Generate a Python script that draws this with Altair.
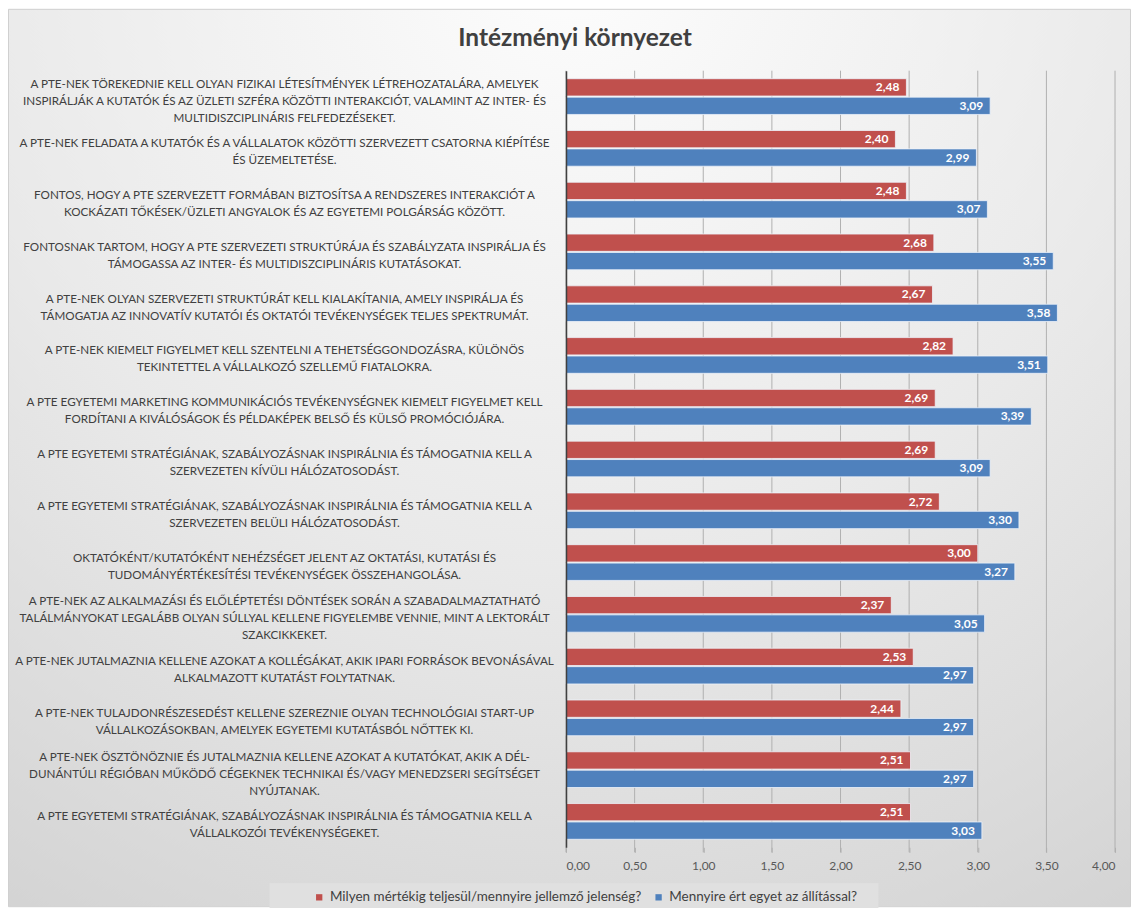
import altair as alt
import pandas as pd

title_text = "Intézményi környezet"
series_names = [
    "Milyen mértékig teljesül/mennyire jellemző jelenség?",
    "Mennyire ért egyet az állítással?",
]
series_colors = ["#c0504d", "#4f81bd"]

statements = [
    "A PTE-NEK TÖREKEDNIE KELL OLYAN FIZIKAI LÉTESÍTMÉNYEK LÉTREHOZATALÁRA, AMELYEK\nINSPIRÁLJÁK A KUTATÓK ÉS AZ ÜZLETI SZFÉRA KÖZÖTTI INTERAKCIÓT, VALAMINT AZ INTER- ÉS\nMULTIDISZCIPLINÁRIS FELFEDEZÉSEKET.",
    "A PTE-NEK FELADATA A KUTATÓK ÉS A VÁLLALATOK KÖZÖTTI SZERVEZETT CSATORNA KIÉPÍTÉSE\nÉS ÜZEMELTETÉSE.",
    "FONTOS, HOGY A PTE SZERVEZETT FORMÁBAN BIZTOSÍTSA A RENDSZERES INTERAKCIÓT A\nKOCKÁZATI TŐKÉSEK/ÜZLETI ANGYALOK ÉS AZ EGYETEMI POLGÁRSÁG KÖZÖTT.",
    "FONTOSNAK TARTOM, HOGY A PTE SZERVEZETI STRUKTÚRÁJA ÉS SZABÁLYZATA INSPIRÁLJA ÉS\nTÁMOGASSA AZ INTER- ÉS MULTIDISZCIPLINÁRIS KUTATÁSOKAT.",
    "A PTE-NEK OLYAN SZERVEZETI STRUKTÚRÁT KELL KIALAKÍTANIA, AMELY INSPIRÁLJA ÉS\nTÁMOGATJA AZ INNOVATÍV KUTATÓI ÉS OKTATÓI TEVÉKENYSÉGEK TELJES SPEKTRUMÁT.",
    "A PTE-NEK KIEMELT FIGYELMET KELL SZENTELNI A TEHETSÉGGONDOZÁSRA, KÜLÖNÖS\nTEKINTETTEL A VÁLLALKOZÓ SZELLEMŰ FIATALOKRA.",
    "A PTE EGYETEMI MARKETING KOMMUNIKÁCIÓS TEVÉKENYSÉGNEK KIEMELT FIGYELMET KELL\nFORDÍTANI A KIVÁLÓSÁGOK ÉS PÉLDAKÉPEK BELSŐ ÉS KÜLSŐ PROMÓCIÓJÁRA.",
    "A PTE EGYETEMI STRATÉGIÁNAK, SZABÁLYOZÁSNAK INSPIRÁLNIA ÉS TÁMOGATNIA KELL A\nSZERVEZETEN KÍVÜLI HÁLÓZATOSODÁST.",
    "A PTE EGYETEMI STRATÉGIÁNAK, SZABÁLYOZÁSNAK INSPIRÁLNIA ÉS TÁMOGATNIA KELL A\nSZERVEZETEN BELÜLI HÁLÓZATOSODÁST.",
    "OKTATÓKÉNT/KUTATÓKÉNT NEHÉZSÉGET JELENT AZ OKTATÁSI, KUTATÁSI ÉS\nTUDOMÁNYÉRTÉKESÍTÉSI TEVÉKENYSÉGEK ÖSSZEHANGOLÁSA.",
    "A PTE-NEK AZ ALKALMAZÁSI ÉS ELŐLÉPTETÉSI DÖNTÉSEK SORÁN A SZABADALMAZTATHATÓ\nTALÁLMÁNYOKAT LEGALÁBB OLYAN SÚLLYAL KELLENE FIGYELEMBE VENNIE, MINT A LEKTORÁLT\nSZAKCIKKEKET.",
    "A PTE-NEK JUTALMAZNIA KELLENE AZOKAT A KOLLÉGÁKAT, AKIK IPARI FORRÁSOK BEVONÁSÁVAL\nALKALMAZOTT KUTATÁST FOLYTATNAK.",
    "A PTE-NEK TULAJDONRÉSZESEDÉST KELLENE SZEREZNIE OLYAN TECHNOLÓGIAI START-UP\nVÁLLALKOZÁSOKBAN, AMELYEK EGYETEMI KUTATÁSBÓL NŐTTEK KI.",
    "A PTE-NEK ÖSZTÖNÖZNIE ÉS JUTALMAZNIA KELLENE AZOKAT A KUTATÓKAT, AKIK A DÉL-\nDUNÁNTÚLI RÉGIÓBAN MŰKÖDŐ CÉGEKNEK TECHNIKAI ÉS/VAGY MENEDZSERI SEGÍTSÉGET\nNYÚJTANAK.",
    "A PTE EGYETEMI STRATÉGIÁNAK, SZABÁLYOZÁSNAK INSPIRÁLNIA ÉS TÁMOGATNIA KELL A\nVÁLLALKOZÓI TEVÉKENYSÉGEKET.",
]

red_values = [2.48, 2.40, 2.48, 2.68, 2.67, 2.82, 2.69, 2.69, 2.72, 3.00, 2.37, 2.53, 2.44, 2.51, 2.51]
blue_values = [3.09, 2.99, 3.07, 3.55, 3.58, 3.51, 3.39, 3.09, 3.30, 3.27, 3.05, 2.97, 2.97, 2.97, 3.03]

x_ticks = [0, 0.5, 1, 1.5, 2, 2.5, 3, 3.5, 4]

FONT = "Lato"
ids = [f"Q{i:02d}" for i in range(len(statements))]

rows = []
for i, qid in enumerate(ids):
    rows.append({"id": qid, "series": series_names[0], "value": red_values[i]})
    rows.append({"id": qid, "series": series_names[1], "value": blue_values[i]})
bars_df = pd.DataFrame(rows)
labels_df = pd.DataFrame({
    "id": ids,
    "label": statements,
    "nlines": [s.count("\n") + 1 for s in statements],
})
grid_df = pd.DataFrame({"value": x_ticks})

W, H = 550, 778
PAD = {"left": 559, "top": 62, "right": 16, "bottom": 60}

y_enc = alt.Y(
    "id:N",
    sort=ids,
    scale=alt.Scale(paddingInner=0.31, paddingOuter=0.155),
    axis=alt.Axis(labels=False, ticks=False, title=None, domain=True,
                  domainColor="#404040", domainWidth=1.5, grid=False, zindex=2),
)
yoff = alt.YOffset("series:N", sort=series_names, scale=alt.Scale(paddingInner=0.06))
x_enc = alt.X(
    "value:Q",
    scale=alt.Scale(domain=[0, 4], nice=False),
    axis=alt.Axis(
        values=x_ticks, grid=False, domain=False, ticks=True,
        tickColor="#b0b0b0", tickSize=5,
        labelExpr="replace(format(datum.value, '.2f'), '.', ',')",
        labelColor="#595959", labelFontSize=12, labelFont=FONT,
        labelPadding=8, title=None, zindex=2,
    ),
)

# decorative chart background (gradient panel)
bg = alt.Chart(pd.DataFrame({"k": [0]})).mark_rect(
    color=alt.Gradient(
        gradient="radial",
        stops=[alt.GradientStop(color="#fdfdfd", offset=0),
               alt.GradientStop(color="#e9e9e9", offset=0.55),
               alt.GradientStop(color="#d3d3d3", offset=1)],
        x1=0.5, y1=0.05, r1=0, x2=0.5, y2=0.05, r2=1.0,
    ),
    stroke="#d0d0d0", strokeWidth=1,
).encode(
    x=alt.value(-PAD["left"] + 0.5), x2=alt.value(W + PAD["right"] - 0.5),
    y=alt.value(-PAD["top"] + 0.5), y2=alt.value(H + PAD["bottom"] - 0.5),
)

# decorative legend panel
legend_bg = alt.Chart(pd.DataFrame({"k": [0]})).mark_rect(color="#e0e0e0").encode(
    x=alt.value(-297), x2=alt.value(313), y=alt.value(814), y2=alt.value(840),
)

title = alt.Chart(pd.DataFrame({"t": [title_text]})).mark_text(
    align="center", baseline="middle", fontSize=24.5, font=FONT,
    fontWeight="bold", color="#404040",
).encode(x=alt.value(9), y=alt.value(-32), text="t:N")

grid = alt.Chart(grid_df).mark_rule(color="#b0b0b0", strokeWidth=1).encode(
    x=alt.X("value:Q"),
    y=alt.value(0), y2=alt.value(H + 5),
)

bars = alt.Chart(bars_df).mark_bar(stroke="#eef3fa", strokeWidth=1, strokeOpacity=0.8).encode(
    y=y_enc,
    yOffset=yoff,
    x=x_enc,
    color=alt.Color(
        "series:N",
        sort=series_names,
        scale=alt.Scale(domain=series_names, range=series_colors),
        legend=alt.Legend(
            orient="none", legendX=-254, legendY=821, direction="horizontal",
            title=None, symbolType="square", symbolSize=40, symbolStrokeWidth=0,
            labelFont=FONT, labelFontSize=13.5, labelColor="#404040",
            padding=0, columnPadding=10, labelLimit=500, labelOffset=4,
        ),
    ),
)

values_text = alt.Chart(bars_df).transform_calculate(
    lbl="replace(format(datum.value, '.2f'), '.', ',')"
).mark_text(
    align="right", baseline="middle", dx=-7, color="white",
    fontWeight="bold", fontSize=12, font=FONT,
).encode(
    y=alt.Y("id:N", sort=ids),
    yOffset=alt.YOffset("series:N", sort=series_names),
    x=alt.X("value:Q"),
    text="lbl:N",
)

def label_layer(n, dy):
    return alt.Chart(labels_df).transform_filter(
        alt.datum.nlines == n
    ).mark_text(
        align="center", baseline="middle", lineBreak="\n", lineHeight=17,
        fontSize=11.7, font=FONT, color="#404040", dy=dy,
    ).encode(
        y=alt.Y("id:N", sort=ids),
        x=alt.value(-282),
        text="label:N",
    )

cat2 = label_layer(2, -5)
cat3 = label_layer(3, -13)

chart = alt.layer(bg, legend_bg, title, grid, bars, values_text, cat2, cat3).properties(
    width=W, height=H,
    autosize=alt.AutoSizeParams(type="none"),
    padding=PAD,
).configure_view(stroke=None).configure(background="#ffffff")

chart.save("out.html", embed_options={"renderer": "svg", "actions": False})
